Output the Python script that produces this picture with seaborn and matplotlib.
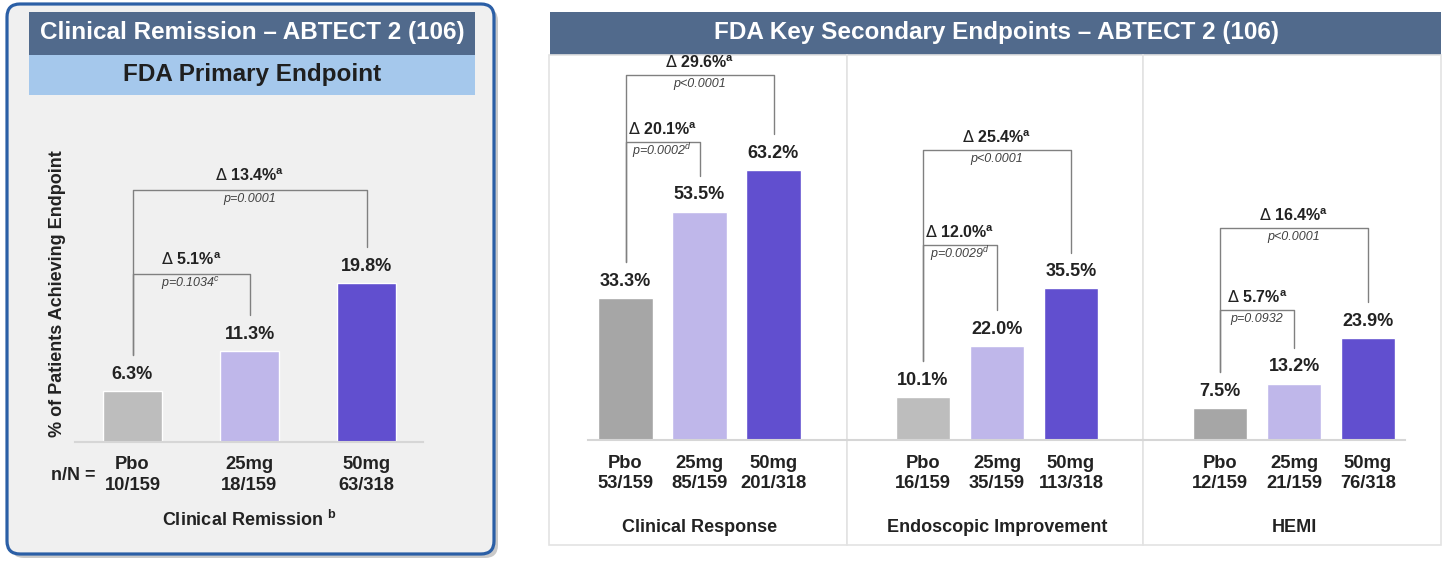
import matplotlib
matplotlib.use("Agg")
import matplotlib.pyplot as plt
import matplotlib.patches as mpatches
from matplotlib.transforms import Affine2D
import seaborn as sns

groups = ["Pbo", "25mg", "50mg"]

remission_pct = [6.3, 11.3, 19.8]
remission_nn = ["10/159", "18/159", "63/318"]

response_pct = [33.3, 53.5, 63.2]
response_nn = ["53/159", "85/159", "201/318"]

endo_pct = [10.1, 22.0, 35.5]
endo_nn = ["16/159", "35/159", "113/318"]

hemi_pct = [7.5, 13.2, 23.9]
hemi_nn = ["12/159", "21/159", "76/318"]

# (delta vs Pbo, p-value, footnote on p) : 25mg first, then 50mg
remission_cmp = [("5.1", "p=0.1034", "c"), ("13.4", "p=0.0001", "")]
response_cmp = [("20.1", "p=0.0002", "d"), ("29.6", "p<0.0001", "")]
endo_cmp = [("12.0", "p=0.0029", "d"), ("25.4", "p<0.0001", "")]
hemi_cmp = [("5.7", "p=0.0932", ""), ("16.4", "p<0.0001", "")]

# bracket heights (in % units) for the two comparisons
remission_levels = [20.9, 31.4]
response_levels = [69.8, 85.5]
endo_levels = [45.7, 67.9]
hemi_levels = [30.4, 49.6]

LIGHT_GREY = "#bdbdbd"
DARK_GREY = "#a6a6a6"
LAV = "#bfb7ea"
PURPLE = "#614fcf"
HEADER = "#516a8c"
TXT = "#222222"

sns.set_theme(style="white")
plt.rcParams["font.family"] = ["Liberation Sans", "DejaVu Sans"]

W, H = 1447, 563
fig = plt.figure(figsize=(W / 100, H / 100), dpi=100)
fig.patch.set_facecolor("white")

# pixel coords measured from the top-left corner
px = Affine2D().scale(1, -1).translate(0, H).scale(1 / 100) + fig.dpi_scale_trans


def ftext(x, y, s, **kw):
    fig.text(x / W, 1 - y / H, s, ha="center", va="center", **kw)


def rect(x, y, w, h, **kw):
    fig.patches.append(mpatches.Rectangle((x, y), w, h, transform=px, figure=fig, **kw))


# ---- backgrounds ----
fig.patches.append(mpatches.FancyBboxPatch((11, 8), 487, 550, boxstyle="round,pad=0,rounding_size=13",
                                           fc="#c9c9c9", ec="none", transform=px, figure=fig, zorder=-12))
fig.patches.append(mpatches.FancyBboxPatch((7, 4), 487, 550, boxstyle="round,pad=0,rounding_size=13",
                                           fc="#f0f0f0", ec="#2b5fa6", lw=2.3, transform=px, figure=fig, zorder=-11))
rect(29, 12, 446, 43, fc=HEADER, ec="none", zorder=-10)
rect(29, 55, 446, 40, fc="#a5c8ec", ec="none", zorder=-10)
rect(550, 12, 891, 43, fc=HEADER, ec="none", zorder=-10)
for x0, x1 in [(549, 847), (847, 1143), (1143, 1441)]:
    rect(x0, 55, x1 - x0, 490, fc="white", ec="#e3e3e3", lw=1.2, zorder=-10)

ftext(252, 33, "Clinical Remission \u2013 ABTECT 2 (106)", color="white", fontsize=17.5, fontweight="bold")
ftext(252, 75, "FDA Primary Endpoint", color="#1f1f1f", fontsize=17.5, fontweight="bold")
ftext(996, 33, "FDA Key Secondary Endpoints \u2013 ABTECT 2 (106)", color="white", fontsize=17.5,
      fontweight="bold")


def panel(x0, x1, ytop, ybase, c0, sp, scale, bw, vals, nn, colors, cmp, levels, leg_off,
          xlabel, xlabel_y, d_off, p_off, lsp, tick_pad):
    ax = fig.add_axes([x0 / W, 1 - ybase / H, (x1 - x0) / W, (ybase - ytop) / H])
    ax.patch.set_visible(False)
    sns.barplot(x=groups, y=vals, hue=groups, palette=colors, width=bw, saturation=1,
                legend=False, ax=ax)
    ax.set_xlim(-(c0 - x0) / sp, (x1 - c0) / sp)
    ax.set_ylim(0, (ybase - ytop) / scale)
    ax.set_yticks([])
    ax.set_xlabel("")
    ax.set_ylabel("")
    ax.set_xticks(range(len(groups)))
    ax.set_xticklabels([f"{g}\n{n}" for g, n in zip(groups, nn)], fontsize=13.2,
                       fontweight="bold", color=TXT, linespacing=lsp)
    ax.tick_params(axis="x", length=0, pad=tick_pad)
    for s in ["top", "right", "left"]:
        ax.spines[s].set_visible(False)
    ax.spines["bottom"].set_color("#d6d6d6")
    ax.spines["bottom"].set_linewidth(1.5)

    for i, v in enumerate(vals):
        ax.annotate(f"{v:.1f}%", (i, v), xytext=(0, 12), textcoords="offset points",
                    ha="center", va="center", fontsize=13, fontweight="bold", color=TXT)

    for j, ((d, p, fn), lev) in enumerate(zip(cmp, levels), start=1):
        ax.plot([0, 0, j, j], [vals[0] + leg_off, lev, lev, vals[j] + leg_off],
                color="#808080", lw=1, clip_on=False)
        ax.annotate(r"$\Delta$ " + f"{d}%" + r"$^{\mathregular{a}}$", (j / 2, lev), xytext=(0, d_off),
                    textcoords="offset points", ha="center", va="center", fontsize=11.5,
                    fontweight="bold", color=TXT, annotation_clip=False)
        ptxt = p + (r"$^{\mathregular{%s}}$" % fn if fn else "")
        ax.annotate(ptxt, (j / 2, lev), xytext=(0, -p_off), textcoords="offset points",
                    ha="center", va="center", fontsize=9, style="italic", color="#404040",
                    annotation_clip=False)

    ax.annotate(xlabel, (1, 0), xytext=(0, -(xlabel_y - ybase) * 0.72), textcoords="offset points",
                ha="center", va="center", fontsize=13, fontweight="bold", color=TXT,
                annotation_clip=False)
    return ax


ax0 = panel(75, 423, 100, 442, 132.5, 117, 8.03, 0.504, remission_pct, remission_nn,
            [LIGHT_GREY, LAV, PURPLE], remission_cmp, remission_levels, 4.5,
            "Clinical Remission " + r"$^{\mathregular{b}}$", 520, 10.5, 6.5, 1.35, 10)
ax0.annotate("n/N =", (0, 0), xytext=(-43, -24), textcoords="offset points", ha="center",
             va="center", fontsize=13, fontweight="bold", color=TXT, annotation_clip=False)
ftext(57, 294, "% of Patients Achieving Endpoint", rotation=90, fontsize=13,
      fontweight="bold", color=TXT)

panel(588, 847, 56, 440, 625.5, 74, 4.27, 0.73, response_pct, response_nn,
      [DARK_GREY, LAV, PURPLE], response_cmp, response_levels, 8.4,
      "Clinical Response", 527, 9, 6.5, 1.25, 10.5)
panel(849, 1143, 56, 440, 923, 74, 4.27, 0.73, endo_pct, endo_nn,
      [LIGHT_GREY, LAV, PURPLE], endo_cmp, endo_levels, 8.4,
      "Endoscopic Improvement", 527, 9, 6.5, 1.25, 10.5)
panel(1143, 1405, 56, 440, 1220, 74, 4.27, 0.73, hemi_pct, hemi_nn,
      [DARK_GREY, LAV, PURPLE], hemi_cmp, hemi_levels, 8.4,
      "HEMI", 527, 9, 6.5, 1.25, 10.5)

fig.savefig("out.png", dpi=100)
